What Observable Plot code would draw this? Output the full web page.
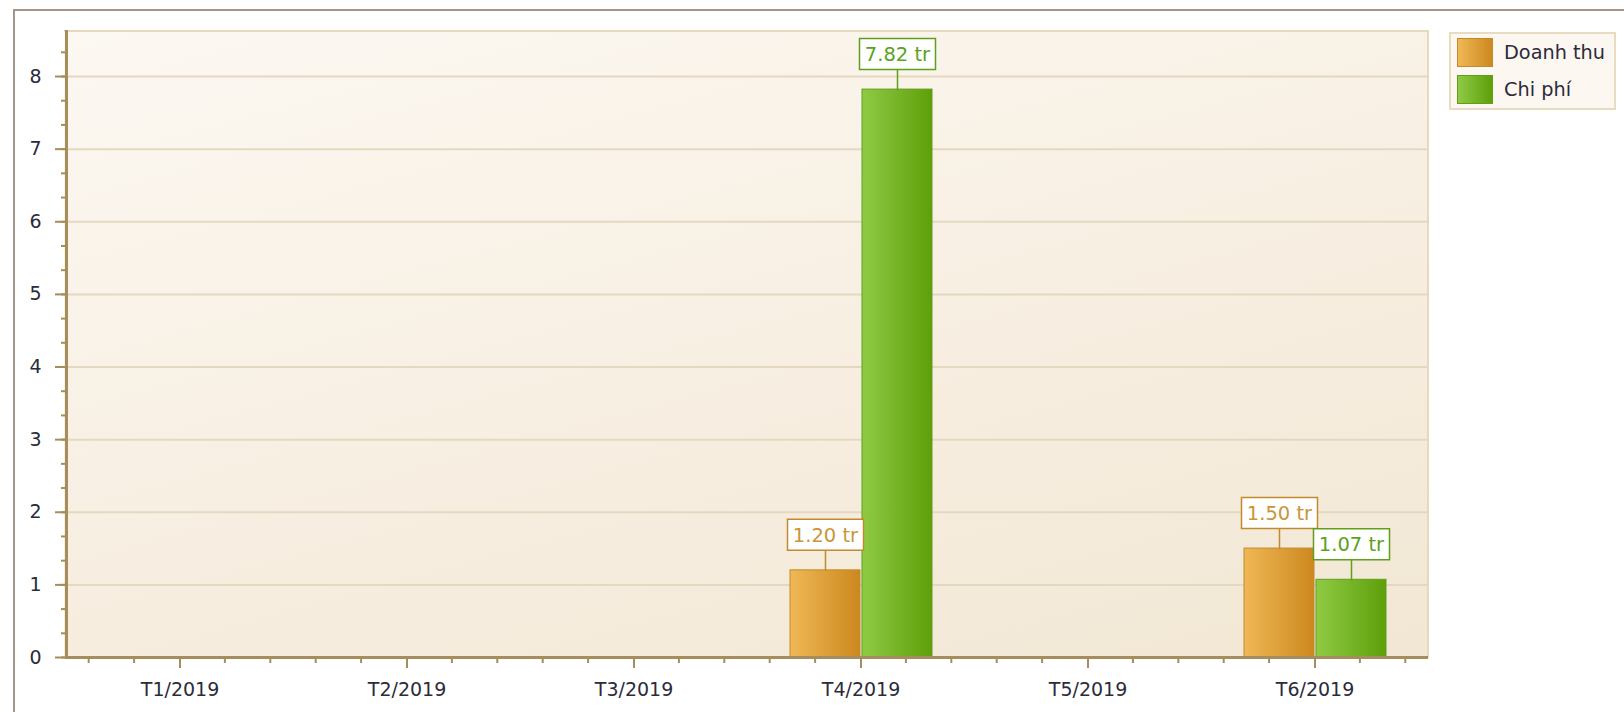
<!DOCTYPE html>
<html><head><meta charset="utf-8">
<script src="https://cdn.jsdelivr.net/npm/d3@7"></script>
<script src="https://cdn.jsdelivr.net/npm/@observablehq/plot@0.6"></script>
<style>
body{margin:0;background:#fff;}
#wrap{position:relative;width:1624px;height:712px;overflow:hidden;font-family:"DejaVu Sans",sans-serif;}
#outer{position:absolute;left:13px;top:9px;width:1700px;height:800px;border-left:2px solid #a3958a;border-top:2px solid #a3958a;}
#bg{position:absolute;left:64px;top:30px;width:1365px;height:628px;box-sizing:border-box;background:linear-gradient(165deg,#fcf8f2 0%,#f8f0e4 45%,#f2e7d4 100%);border-top:2px solid #e6d9bc;border-right:2px solid #e6d9bc;}
#chart{position:absolute;left:0;top:0;}
#legend{position:absolute;left:1449px;top:32px;width:167px;height:78px;box-sizing:border-box;border:2px solid #e8dcc0;background:#fcf8f1;}
.item{position:absolute;left:6px;height:29px;display:flex;align-items:center;}
.sw{width:36px;height:29px;box-sizing:border-box;border:1px solid;}
.lab{margin-left:11px;font-size:19.3px;color:#2b2b3b;white-space:nowrap;}
</style></head>
<body>
<svg width="0" height="0" style="position:absolute"><defs>
<linearGradient id="gDT" x1="0" x2="1" y1="0" y2="0"><stop offset="0" stop-color="#efb856"/><stop offset="1" stop-color="#cc881e"/></linearGradient>
<linearGradient id="gCP" x1="0" x2="1" y1="0" y2="0"><stop offset="0" stop-color="#8fca45"/><stop offset="1" stop-color="#5e9f0a"/></linearGradient>
</defs></svg>
<div id="wrap">
  <div id="outer"></div>
  <div id="bg"></div>
  <div id="chart"></div>
  <div id="legend"></div>
</div>
<script>
const months = ["T1/2019","T2/2019","T3/2019","T4/2019","T5/2019","T6/2019"];
const seriesNames = ["Doanh thu","Chi phí"];
const doanhThu = [null,null,null,1.20,null,1.50];
const chiPhi = [null,null,null,7.82,null,1.07];
const yTicks = [0,1,2,3,4,5,6,7,8];
const yMax = 8.62;
const unit = " tr";

const seriesStyle = {
  "Doanh thu": {fill:"url(#gDT)", stroke:"#c28a2c", text:"#c99538", swatch:"linear-gradient(90deg,#efb856,#cc881e)"},
  "Chi phí": {fill:"url(#gCP)", stroke:"#5f9f1c", text:"#5aa21c", swatch:"linear-gradient(90deg,#8fca45,#5e9f0a)"}
};
const seriesValues = {"Doanh thu": doanhThu, "Chi phí": chiPhi};

const rows = [];
months.forEach((m, i) => {
  for (const s of seriesNames) {
    const v = seriesValues[s][i];
    if (v != null) rows.push({month: m, series: s, value: v});
  }
});

const axisColor = "#a68d5c";
const textColor = "#2b2b3b";
const ns = "http://www.w3.org/2000/svg";

const minorY = d3.range(0, Math.floor(yMax * 3) + 1).map(i => i / 3);

function minorX(index, scales) {
  const g = document.createElementNS(ns, "g");
  const [a, b] = scales.x.range();
  const y0 = scales.y(0);
  for (let k = 0; k < 5; k++) {
    if (k === 2) continue;
    const x = a + (b - a) * (k + 0.5) / 5;
    const l = document.createElementNS(ns, "line");
    l.setAttribute("x1", x); l.setAttribute("x2", x);
    l.setAttribute("y1", y0); l.setAttribute("y2", y0 + 6);
    l.setAttribute("stroke", axisColor); l.setAttribute("stroke-width", 2);
    g.appendChild(l);
  }
  return g;
}

const boxSymbol = {draw(ctx) { ctx.rect(-38, -15.5, 76, 31); }};
const stemShape = {draw(ctx, l) { ctx.moveTo(0, 0); ctx.lineTo(0, -l); }};

const seriesMarks = seriesNames.map(s => {
  const d = rows.filter(r => r.series === s);
  const st = seriesStyle[s];
  return Plot.barY(d, {fx: "month", x: "series", y: "value", fill: st.fill, stroke: st.stroke, strokeWidth: 1});
});
const labelMarks = seriesNames.flatMap(s => {
  const d = rows.filter(r => r.series === s);
  const st = seriesStyle[s];
  return [
    Plot.vector(d, {fx: "month", x: "series", y: "value", length: 20, rotate: 0, anchor: "start", shape: stemShape, stroke: st.stroke, strokeWidth: 1.5}),
    Plot.dot(d, {fx: "month", x: "series", y: "value", r: 1, symbol: boxSymbol, dy: -35.5, fill: "white", stroke: st.stroke, strokeWidth: 1.5}),
    Plot.text(d, {fx: "month", x: "series", y: "value", text: r => r.value.toFixed(2) + unit, dy: -35, fill: st.text, fontSize: 19.5})
  ];
});

const chart = Plot.plot({
  width: 1624, height: 712,
  marginLeft: 65, marginRight: 196, marginTop: 31, marginBottom: 55,
  style: {background: "transparent", fontFamily: "'DejaVu Sans',sans-serif", fontSize: "19px", color: textColor, overflow: "visible"},
  fx: {domain: months, padding: 0, label: null},
  x: {domain: seriesNames, paddingInner: 0.03, paddingOuter: 0.59, axis: null},
  y: {domain: [0, yMax], label: null},
  marks: [
    Plot.gridY(yTicks.slice(1), {stroke: "#e4d8c1", strokeWidth: 2, strokeOpacity: 1}),
    Plot.axisY(minorY, {tickSize: 5, tickFormat: () => "", stroke: axisColor, strokeWidth: 2, label: null}),
    Plot.axisY(yTicks, {tickSize: 11, tickPadding: 14, tickFormat: d => String(d), stroke: axisColor, fill: textColor, strokeWidth: 2, label: null, fontSize: 19}),
    Plot.axisFx({anchor: "bottom", tickSize: 11, tickPadding: 14, stroke: axisColor, fill: textColor, strokeWidth: 2, label: null, fontSize: 19}),
    minorX,
    ...seriesMarks,
    Plot.ruleY(months, {fx: d => d, y: () => 0, stroke: axisColor, strokeWidth: 3}),
    Plot.frame({anchor: "left", facetAnchor: "left", stroke: axisColor, strokeWidth: 3}),
    ...labelMarks
  ]
});
document.getElementById("chart").appendChild(chart);

const legend = document.getElementById("legend");
seriesNames.forEach((s, i) => {
  const item = document.createElement("div");
  item.className = "item";
  item.style.top = (4 + i * 37) + "px";
  const sw = document.createElement("div");
  sw.className = "sw";
  sw.style.background = seriesStyle[s].swatch;
  sw.style.borderColor = seriesStyle[s].stroke;
  const lab = document.createElement("span");
  lab.className = "lab";
  lab.textContent = s;
  item.appendChild(sw); item.appendChild(lab);
  legend.appendChild(item);
});
</script>
</body></html>
